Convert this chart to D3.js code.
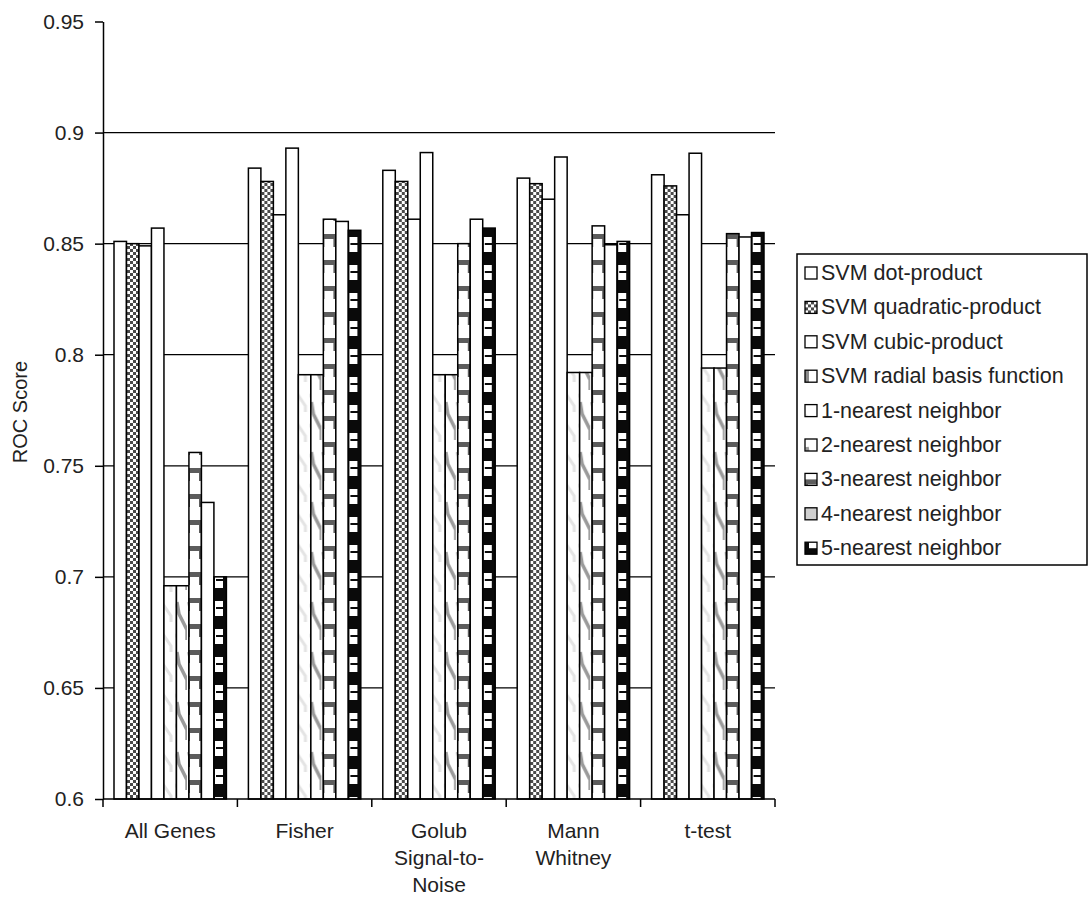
<!DOCTYPE html>
<html>
<head>
<meta charset="utf-8">
<script src="https://cdn.jsdelivr.net/npm/d3@7"></script>
<style>
  body { margin: 0; background: #fff; }
  text { font-family: "Liberation Sans", Arial, sans-serif; fill: #222; }
</style>
</head>
<body>
<script>
var W = 1090, H = 903;

var categories = ['All Genes', 'Fisher', 'Golub Signal-to-Noise', 'Mann Whitney', 't-test'];
var catLines = [['All Genes'], ['Fisher'], ['Golub', 'Signal-to-', 'Noise'], ['Mann', 'Whitney'], ['t-test']];
var series = ['SVM dot-product', 'SVM quadratic-product', 'SVM cubic-product', 'SVM radial basis function',
  '1-nearest neighbor', '2-nearest neighbor', '3-nearest neighbor', '4-nearest neighbor', '5-nearest neighbor'];

// one array per series, values in category order
var svmDot = [0.851, 0.884, 0.883, 0.8795, 0.881];
var svmQuad = [0.850, 0.878, 0.878, 0.877, 0.876];
var svmCubic = [0.849, 0.863, 0.861, 0.870, 0.863];
var svmRbf = [0.857, 0.893, 0.891, 0.889, 0.8907];
var nn1 = [0.696, 0.791, 0.791, 0.792, 0.794];
var nn2 = [0.696, 0.791, 0.791, 0.792, 0.794];
var nn3 = [0.756, 0.861, 0.850, 0.858, 0.8545];
var nn4 = [0.7335, 0.860, 0.861, 0.8495, 0.853];
var nn5 = [0.700, 0.856, 0.857, 0.851, 0.855];
var values = [svmDot, svmQuad, svmCubic, svmRbf, nn1, nn2, nn3, nn4, nn5];

var yTicks = [0.6, 0.65, 0.7, 0.75, 0.8, 0.85, 0.9, 0.95];
var yLabels = ['0.6', '0.65', '0.7', '0.75', '0.8', '0.85', '0.9', '0.95'];

var fills = ['#fff', 'url(#pQuad)', '#fff', 'url(#pRbf)', 'url(#p1)', 'url(#p2)', 'url(#p3)', 'url(#p4)', 'url(#p5)'];

var plotL = 103, plotR = 775, plotT = 21.5, plotB = 799;

var svg = d3.select('body').append('svg').attr('width', W).attr('height', H);

// patterns (rough copies of the printed hatch fills)
var defs = svg.append('defs');
var q = defs.append('pattern').attr('id', 'pQuad').attr('patternUnits', 'userSpaceOnUse').attr('width', 6).attr('height', 6);
q.append('rect').attr('width', 6).attr('height', 6).attr('fill', '#fff');
q.append('rect').attr('width', 3).attr('height', 3).attr('fill', '#4a4a4a');
q.append('rect').attr('x', 3).attr('y', 3).attr('width', 3).attr('height', 3).attr('fill', '#4a4a4a');

var r = defs.append('pattern').attr('id', 'pRbf').attr('patternUnits', 'userSpaceOnUse').attr('width', 33).attr('height', 10);
r.append('rect').attr('width', 33).attr('height', 10).attr('fill', '#fff');
r.append('rect').attr('x', 0).attr('width', 4).attr('height', 10).attr('fill', '#8a8a8a');

var p1 = defs.append('pattern').attr('id', 'p1').attr('patternUnits', 'userSpaceOnUse').attr('width', 12).attr('height', 30);
p1.append('rect').attr('width', 12).attr('height', 30).attr('fill', '#fff');
p1.append('path').attr('d', 'M0,4 L8,16 L8,22').attr('stroke', '#e4e4e4').attr('stroke-width', 3).attr('fill', 'none');

var p2 = defs.append('pattern').attr('id', 'p2').attr('patternUnits', 'userSpaceOnUse').attr('width', 12).attr('height', 50);
p2.append('rect').attr('width', 12).attr('height', 50).attr('fill', '#fff');
p2.append('path').attr('d', 'M2,2 L4,14 L12,30 L12,40').attr('stroke', '#9a9a9a').attr('stroke-width', 3.5).attr('fill', 'none');

var p3 = defs.append('pattern').attr('id', 'p3').attr('patternUnits', 'userSpaceOnUse').attr('width', 12).attr('height', 26);
p3.append('rect').attr('width', 12).attr('height', 26).attr('fill', '#fff');
p3.append('rect').attr('y', 0).attr('width', 12).attr('height', 5).attr('fill', '#5c5c5c');
p3.append('rect').attr('y', 5).attr('width', 3).attr('height', 8).attr('fill', '#5c5c5c');

var p4 = defs.append('pattern').attr('id', 'p4').attr('patternUnits', 'userSpaceOnUse').attr('width', 40).attr('height', 10);
p4.append('rect').attr('width', 40).attr('height', 10).attr('fill', '#fff');
p4.append('rect').attr('x', 0).attr('width', 16).attr('height', 10).attr('fill', '#cfcfcf');

var p5 = defs.append('pattern').attr('id', 'p5').attr('patternUnits', 'userSpaceOnUse').attr('width', 12).attr('height', 28);
p5.append('rect').attr('width', 12).attr('height', 28).attr('fill', '#fff');
p5.append('rect').attr('y', 0).attr('width', 12).attr('height', 13).attr('fill', '#0a0a0a');
p5.append('rect').attr('x', 0).attr('y', 13).attr('width', 4).attr('height', 15).attr('fill', '#0a0a0a');
p5.append('rect').attr('x', 5).attr('y', 19).attr('width', 7).attr('height', 2).attr('fill', '#0a0a0a');

// scales
var x0 = d3.scaleBand().domain(categories).range([plotL, plotR]);
var x1 = d3.scaleBand().domain(series).range([11, x0.bandwidth() - 11]);
var y = d3.scaleLinear().domain([0.6, 0.95]).range([plotB, plotT]);

// gridlines
svg.append('g').selectAll('line')
  .data(yTicks.filter(function(d) { return d > 0.6 && d < 0.95; }))
  .enter().append('line')
  .attr('x1', plotL).attr('x2', plotR)
  .attr('y1', function(d) { return y(d); }).attr('y2', function(d) { return y(d); })
  .attr('stroke', '#000').attr('stroke-width', 1.3);

// bars
var groups = svg.append('g').selectAll('g')
  .data(categories)
  .enter().append('g')
  .attr('transform', function(d) { return 'translate(' + x0(d) + ',0)'; });

groups.selectAll('rect')
  .data(function(c, ci) {
    return series.map(function(s, si) { return {s: s, si: si, v: values[si][ci]}; });
  })
  .enter().append('rect')
  .attr('x', function(d) { return x1(d.s); })
  .attr('y', function(d) { return y(d.v); })
  .attr('width', x1.bandwidth())
  .attr('height', function(d) { return plotB - y(d.v); })
  .attr('fill', function(d) { return fills[d.si]; })
  .attr('stroke', '#000')
  .attr('stroke-width', 1.5);

// y axis
var yAxis = d3.axisLeft(y).tickValues(yTicks)
  .tickFormat(function(d, i) { return yLabels[i]; })
  .tickSize(8).tickSizeOuter(0).tickPadding(11);
var ga = svg.append('g').attr('transform', 'translate(' + plotL + ',0)').call(yAxis);
ga.select('.domain').attr('stroke', '#000').attr('stroke-width', 1.5);
ga.selectAll('.tick line').attr('stroke', '#000').attr('stroke-width', 1.5);
ga.selectAll('.tick text').style('font-size', '21px').style('font-family', '"Liberation Sans", Arial, sans-serif').attr('fill', '#222');

// x axis
svg.append('line').attr('x1', plotL).attr('x2', plotR).attr('y1', plotB).attr('y2', plotB)
  .attr('stroke', '#000').attr('stroke-width', 1.5);
var bounds = categories.map(function(c) { return x0(c); }).concat([x0(categories[categories.length - 1]) + x0.bandwidth()]);
svg.append('g').selectAll('line').data(bounds).enter().append('line')
  .attr('x1', function(d) { return d; }).attr('x2', function(d) { return d; })
  .attr('y1', plotB).attr('y2', plotB + 8)
  .attr('stroke', '#000').attr('stroke-width', 1.5);

var labels = svg.append('g').selectAll('text').data(categories).enter().append('text')
  .attr('text-anchor', 'middle')
  .style('font-size', '21px')
  .attr('transform', function(d) { return 'translate(' + (x0(d) + x0.bandwidth() / 2) + ',' + (plotB + 39) + ')'; });
labels.each(function(d, i) {
  var t = d3.select(this);
  catLines[i].forEach(function(line, j) {
    t.append('tspan').attr('x', 0).attr('y', j * 27).text(line);
  });
});

// y title
svg.append('text').attr('text-anchor', 'middle')
  .attr('transform', 'translate(27,412) rotate(-90)')
  .style('font-size', '20px').text('ROC Score');

// legend
var lg = svg.append('g');
lg.append('rect').attr('x', 797).attr('y', 254).attr('width', 290).attr('height', 311)
  .attr('fill', '#fff').attr('stroke', '#000').attr('stroke-width', 1.5);
var items = lg.selectAll('g.item').data(series).enter().append('g')
  .attr('transform', function(d, i) { return 'translate(805,' + (273 + i * 34.4) + ')'; });
items.append('rect').attr('x', 0).attr('y', -6).attr('width', 12).attr('height', 12)
  .attr('fill', function(d, i) { return fills[i]; })
  .attr('stroke', '#000').attr('stroke-width', 1.3);
items.append('text').attr('x', 16).attr('y', 7).style('font-size', '21.5px').text(function(d) { return d; });
</script>
</body>
</html>
